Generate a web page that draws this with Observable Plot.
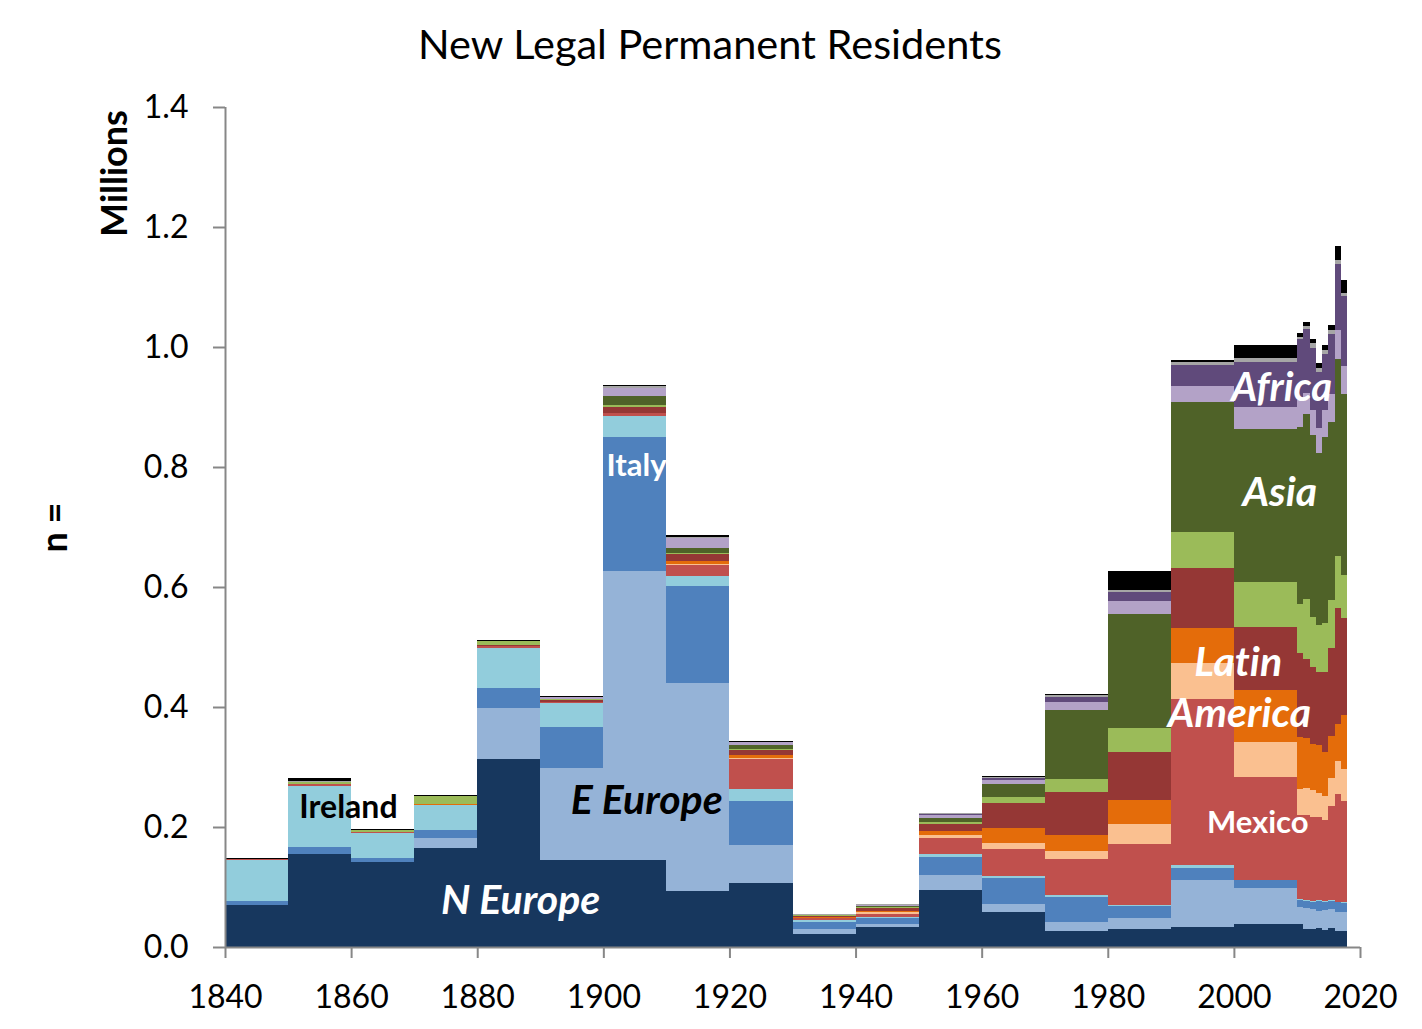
<!DOCTYPE html>
<html>
<head>
<meta charset="utf-8">
<script src="https://cdn.jsdelivr.net/npm/d3@7"></script>
<script src="https://cdn.jsdelivr.net/npm/@observablehq/plot@0.6"></script>
<style>
  html, body { margin: 0; padding: 0; background: #fff; }
  #chart { position: absolute; left: 0; top: 0; }
  svg text { font-variant-ligatures: none; font-feature-settings: "liga" 0, "clig" 0; }
</style>
</head>
<body>
<div id="chart"></div>
<script>
// ---- DATA (millions of new legal permanent residents per year; decade averages, then single years) ----
const periodStart = [1840,1850,1860,1870,1880,1890,1900,1910,1920,1930,1940,1950,1960,1970,1980,1990,2000,2010,2011,2012,2013,2014,2015,2016,2017];
const periodEnd   = [1850,1860,1870,1880,1890,1900,1910,1920,1930,1940,1950,1960,1970,1980,1990,2000,2010,2011,2012,2013,2014,2015,2016,2017,2018];

const seriesNames = ["N Europe","E Europe","Italy","Ireland","Mexico","Caribbean","Central America","South America","South Asia","East Asia","Middle East","Africa","Oceania","Unknown"];
const seriesColors = ["#17375E","#95B3D7","#4F81BD","#92CDDC","#C0504D","#FAC090","#E46C0A","#953735","#9BBB59","#4F6228","#B3A2C7","#604A7B","#A6A6A6","#000000"];

const nEurope   = [.070,.155,.142,.165,.313,.145,.145,.093,.107,.0217,.0333,.095,.058,.027,.030,.033,.038,.038,.0294,.0294,.0322,.0283,.0311,.0272,.0272];
const eEurope   = [0,0,0,.017,.085,.154,.482,.347,.063,.0083,.0047,.025,.014,.015,.018,.079,.060,.028,.035,.0339,.0284,.0334,.0322,.0317,.0317];
const italy     = [.007,.012,.006,.013,.034,.068,.223,.162,.073,.0117,.011,.030,.043,.042,.020,.019,.013,.0124,.0128,.0124,.0167,.014,.014,.0157,.0145];
const ireland   = [.068,.101,.042,.042,.067,.040,.035,.016,.020,.0033,.0015,.005,.003,.002,.002,.005,.001,.0012,.001,.001,.001,.001,.001,.001,.001];
const mexico    = [.0015,.003,.001,0,.002,.002,.0045,.019,.050,.004,.005,.027,.045,.061,.102,.277,.171,.1404,.1418,.1405,.1378,.135,.1567,.1794,.1695];
const caribbean = [0,0,0,0,0,0,0,.001,.002,0,.0035,.005,.010,.013,.033,.060,.059,.0428,.0444,.0445,.0411,.040,.0461,.0556,.0522];
const centralAm = [0,0,.001,.002,0,0,.001,.005,.005,.001,.001,.006,.025,.027,.040,.059,.086,.0866,.0836,.0763,.0798,.0739,.0706,.0611,.0906];
const southAm   = [0,0,0,0,.002,.002,.009,.012,.008,.002,.005,.012,.042,.071,.080,.100,.105,.140,.1326,.1292,.1219,.1333,.1461,.1927,.1611];
const southAsia = [0,.004,.003,.013,.007,.002,.004,.002,.002,.001,.002,.003,.010,.022,.040,.060,.075,.0826,.100,.0834,.0778,.0805,.0805,.0873,.0722];
const eastAsia  = [0,0,0,0,0,.001,.015,.008,.007,.001,.002,.007,.022,.115,.190,.216,.255,.2952,.3077,.3027,.2861,.310,.2973,.3283,.3017];
const midEast   = [0,0,0,0,0,.002,.013,.017,.004,0,.001,.005,.006,.013,.022,.027,.037,.0445,.0345,.0417,.0416,.0456,.0461,.0483,.0466];
const africa    = [0,0,0,0,0,0,0,0,0,0,.0005,.002,.004,.009,.015,.035,.075,.1011,.1072,.1039,.0945,.0933,.0994,.110,.1167];
const oceania   = [0,.001,0,0,0,0,.003,.002,.001,.001,.0005,.001,.0015,.003,.003,.005,.007,.0039,.005,.0072,.0055,.0067,.0078,.0067,.0056];
const unknown   = [.0015,.005,.002,.002,.002,.002,.003,.002,.001,0,.001,.001,.0015,.002,.032,.003,.021,.0066,.0072,.0072,.0089,.0083,.0078,.0233,.0211];
const seriesValues = [nEurope,eEurope,italy,ireland,mexico,caribbean,centralAm,southAm,southAsia,eastAsia,midEast,africa,oceania,unknown];

const xTicks = [1840,1860,1880,1900,1920,1940,1960,1980,2000,2020];
const yTicks = [0,0.2,0.4,0.6,0.8,1.0,1.2,1.4];

// in-chart region labels (data coordinates)
const labelText   = ["N Europe","E Europe","Italy","Ireland","Mexico","Latin","America","Asia","Africa"];
const labelYear   = [1886.8,1906.8,1905.2,1859.5,2003.7,2000.6,2000.8,2007.2,2007.5];
const labelValue  = [0.077,0.245,0.803,0.233,0.207,0.475,0.39,0.757,0.932];
const labelFill   = ["white","black","white","black","white","white","white","white","white"];
const labelItalic = [true,true,false,false,false,true,true,true,true];
const labelSize   = [41,41,31,32,31,41,41,41,40];

// ---- build tables ----
const rows = [];
periodStart.forEach((p, i) => {
  seriesNames.forEach((s, j) => {
    rows.push({start: p, end: periodEnd[i], series: s, value: seriesValues[j][i]});
  });
});
const labels = labelText.map((t, i) => ({text: t, x: labelYear[i], y: labelValue[i], fill: labelFill[i], italic: labelItalic[i], size: labelSize[i]}));

const grey = "#878787";
const font = "Lato, 'Open Sans', sans-serif";

const labelMarks = labels.map(d => Plot.text([d], {
  x: "x", y: "y", text: "text", fill: d.fill,
  fontSize: d.size, fontWeight: "bold", fontStyle: d.italic ? "italic" : "normal",
  textAnchor: "middle"
}));

const chart = Plot.plot({
  width: 1422,
  height: 1029,
  marginLeft: 225,
  marginRight: 62,
  marginTop: 107,
  marginBottom: 82,
  style: {fontFamily: font, fontSize: "32px", color: "black", background: "white", overflow: "visible"},
  x: {domain: [1840, 2020]},
  y: {domain: [0, 1.4]},
  color: {domain: seriesNames, range: seriesColors},
  marks: [
    Plot.rectY(rows, {x1: "start", x2: "end", y: "value", fill: "series", order: seriesNames, inset: 0, shapeRendering: "crispEdges"}),
    Plot.ruleX([1840], {stroke: grey, strokeWidth: 2}),
    Plot.ruleY([0], {stroke: grey, strokeWidth: 2}),
    Plot.axisY({ticks: yTicks, tickFormat: d3.format(".1f"), tickSize: 12, tickPadding: 25, stroke: grey, fill: "black", strokeWidth: 2, label: null, fontSize: 32}),
    Plot.axisX({ticks: xTicks, tickFormat: d => String(d), tickSize: 11, tickPadding: 27, stroke: grey, fill: "black", strokeWidth: 2, label: null, fontSize: 32}),
    ...labelMarks,
    Plot.text(["New Legal Permanent Residents"], {frameAnchor: "top", dx: -83, dy: -62, fontSize: 41.5, fill: "black", textAnchor: "middle", lineAnchor: "middle"}),
    Plot.text(["Millions"], {frameAnchor: "top-left", dx: -110, dy: 66, rotate: -90, fontSize: 36, fontWeight: "bold", fill: "black", textAnchor: "middle", lineAnchor: "middle"}),
    Plot.text(["n ="], {frameAnchor: "left", dx: -170, rotate: -90, fontSize: 36, fontWeight: "bold", fill: "black", textAnchor: "middle", lineAnchor: "middle"})
  ]
});
document.getElementById("chart").appendChild(chart);
</script>
</body>
</html>
